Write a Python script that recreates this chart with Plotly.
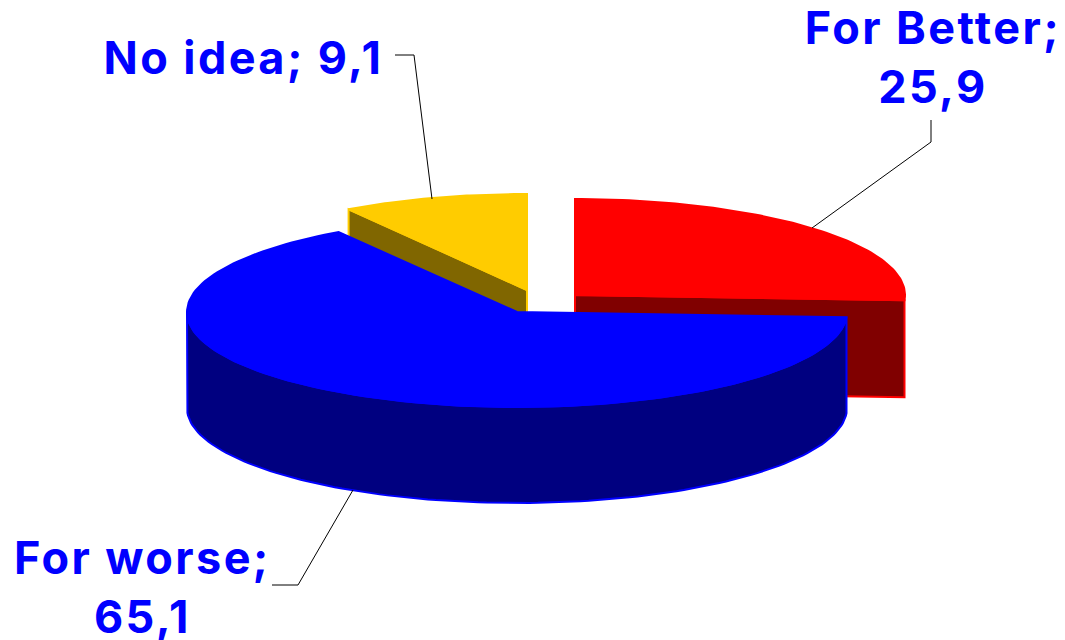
import numpy as np
import plotly.graph_objects as go

categories = ["For Better", "For worse", "No idea"]
values = [25.9, 65.1, 9.1]

FONT = "Inter"
total = sum(values)
a = np.cumsum([0] + values) / total * 2 * np.pi  # clockwise from north

RX = 330
styles = [
    dict(c=(575, 295), ry=96, top="#FF0000", side="#800000", edge="#FF0000", depth=97),
    dict(c=(517, 312), ry=95, top="#0000FF", side="#000080", edge="#0000FF", depth=96),
    dict(c=(527, 290), ry=96, top="#FFCC00", side="#806600", edge="#FFCC00", depth=97),
]


def pt(s, t):
    return s["c"][0] + RX * np.sin(t), s["c"][1] - s["ry"] * np.cos(t)


def poly(fig, xs, ys, fill, edge):
    fig.add_trace(go.Scatter(x=list(xs), y=list(ys), mode="lines", fill="toself",
                             fillcolor=fill, line=dict(color=edge, width=2),
                             hoverinfo="skip", showlegend=False))


fig = go.Figure()


def wedge(i):
    s = styles[i]
    t0, t1 = a[i], a[i + 1]
    return s, s["c"], s["depth"], t0, t1, pt(s, t0), pt(s, t1)


# red: cut face at its closing radius
s, c, d, t0, t1, st, en = wedge(0)
poly(fig, [c[0], en[0], en[0], c[0], c[0]], [c[1], en[1], en[1] + d, c[1] + d, c[1]], s["side"], s["edge"])
t = np.linspace(t0, t1, 80)
x, y = pt(s, t)
poly(fig, np.r_[c[0], x, c[0]], np.r_[c[1], y, c[1]], s["top"], s["edge"])

# yellow: cut face at its opening radius
s, c, d, t0, t1, st, en = wedge(2)
poly(fig, [c[0], st[0], st[0], c[0], c[0]], [c[1], st[1], st[1] + d, c[1] + d, c[1]], s["side"], s["edge"])
t = np.linspace(t0, t1, 60)
x, y = pt(s, t)
poly(fig, np.r_[c[0], x, c[0]], np.r_[c[1], y, c[1]], s["top"], s["edge"])

# blue: outer wall then top
s, c, d, t0, t1, st, en = wedge(1)
t = np.linspace(t0, np.pi * 1.5, 120)
x, y = pt(s, t)
poly(fig, np.r_[x, x[::-1], x[0]], np.r_[y, (y + d)[::-1], y[0]], s["side"], s["edge"])
t = np.linspace(t0, t1, 160)
x, y = pt(s, t)
poly(fig, np.r_[c[0], x, c[0]], np.r_[c[1], y, c[1]], s["top"], s["edge"])

# leader lines
leaders = [
    ([931, 931, 812], [120, 142, 228]),
    ([272, 298, 353], [585, 585, 490]),
    ([395, 414, 432], [55, 55, 199]),
]
for lx, ly in leaders:
    fig.add_trace(go.Scatter(x=lx, y=ly, mode="lines", line=dict(color="#000000", width=1),
                             hoverinfo="skip", showlegend=False))


def fmt(v):
    return f"{v:.1f}".replace(".", ",")


labels = [
    (f"{categories[0]};<br>{fmt(values[0])}", 933, 57),
    (f"{categories[1]};<br>{fmt(values[1])}", 142, 587),
    (f"{categories[2]}; {fmt(values[2])}", 243, 57),
]
for txt, lx, ly in labels:
    fig.add_annotation(x=lx, y=ly, text=txt, showarrow=False, xanchor="center", yanchor="middle",
                       font=dict(family=FONT, size=45, color="#0000FF", weight="bold"))

fig.update_layout(width=1065, height=640, margin=dict(l=0, r=0, t=0, b=0),
                  paper_bgcolor="white", plot_bgcolor="white", showlegend=False,
                  xaxis=dict(range=[0, 1065], visible=False, fixedrange=True),
                  yaxis=dict(range=[640, 0], visible=False, fixedrange=True))
post = """
document.body.style.margin = '0';
document.body.style.overflow = 'hidden';
document.querySelectorAll('.annotation-text').forEach(function (e) { e.style.letterSpacing = '2.4px'; });
"""
fig.write_html("out.html", config={"displayModeBar": False}, post_script=post)
